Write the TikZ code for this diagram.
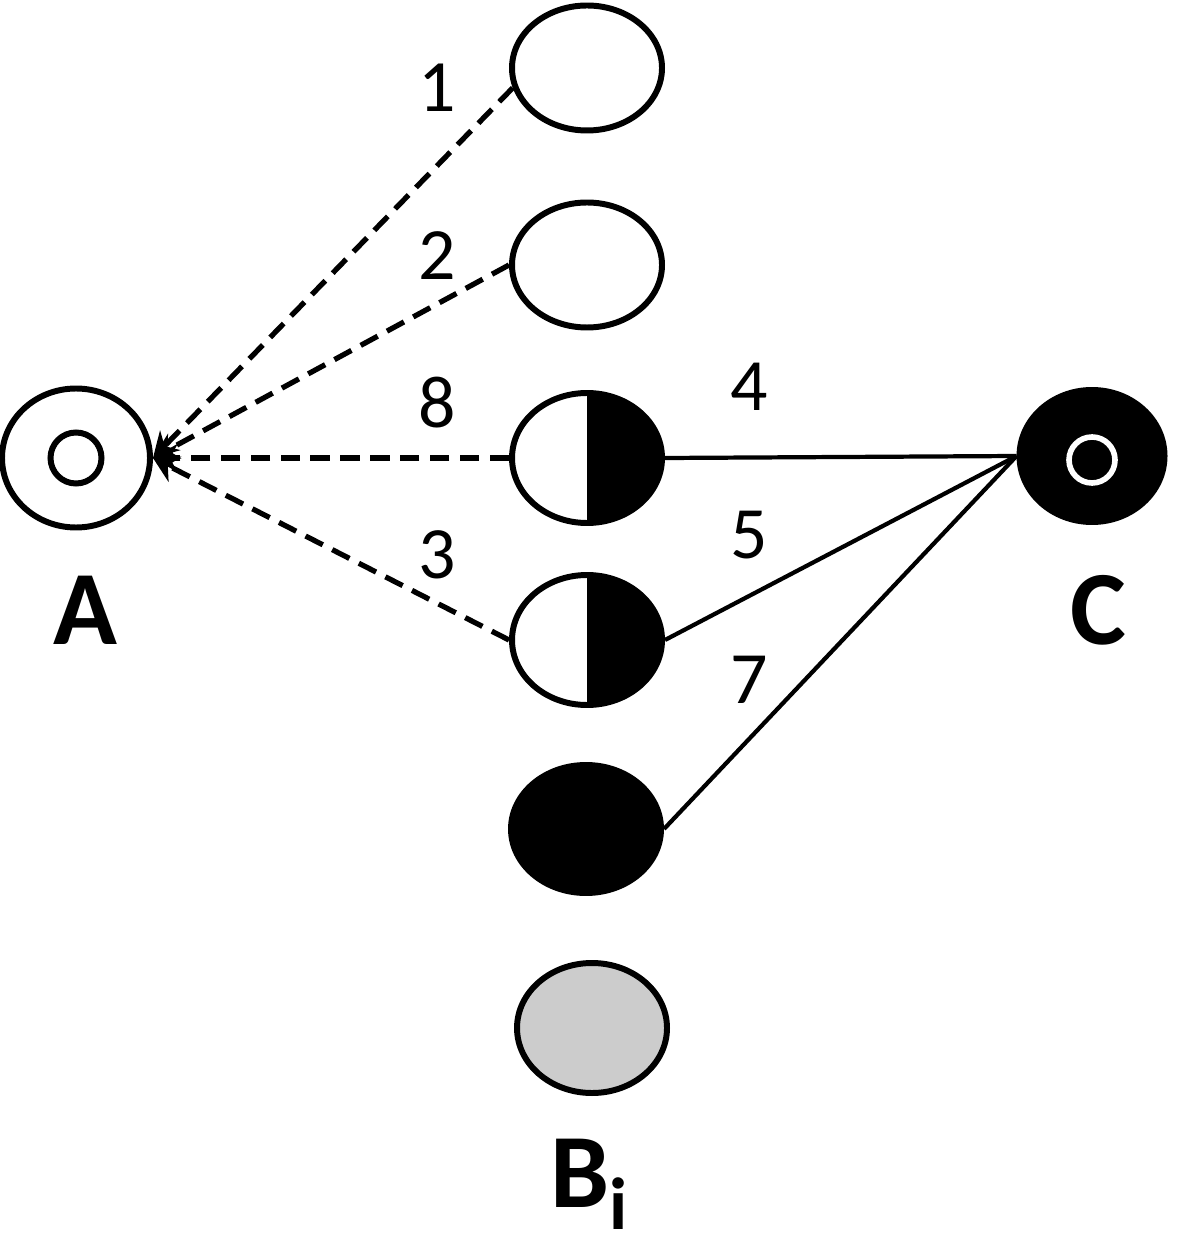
\documentclass[tikz,border=0pt]{standalone}
\usepackage{amsmath}
\usepackage{fontspec}
\setmainfont{Carlito}
\usetikzlibrary{shapes.geometric,positioning,arrows.meta}

\tikzset{
  cell/.style={ellipse, draw, line width=1.7pt, minimum width=1.5cm, minimum height=1.25cm, inner sep=0pt},
  half/.style={cell, path picture={\fill (path picture bounding box.north) rectangle (path picture bounding box.south east);}},
  dark/.style={cell, fill=black},
  pale/.style={cell, fill=black!20},
  link/.style={line width=1.5pt, dash pattern=on 5.5pt off 3pt, -{Stealth[length=7pt,width=8pt]}},
  tie/.style={line width=1.2pt},
  num/.style={font=\fontsize{21}{21}\selectfont},
  tag/.style={font=\fontsize{30}{30}\selectfont\bfseries}
}

\begin{document}
\begin{tikzpicture}
\useasboundingbox (0,0) rectangle (11.79,-12.45);

% source and sink
\node[cell, minimum width=1.48cm, minimum height=1.39cm,
  path picture={\draw[line width=1.7pt] (path picture bounding box.center) circle (0.255cm);}] (A) at (0.76,-4.58) {};
\node[dark, minimum width=1.45cm, minimum height=1.32cm,
  path picture={\draw[white, line width=1.6pt] ([yshift=-0.04cm]path picture bounding box.center) circle (0.23cm);}] (C) at (10.92,-4.56) {};

% middle column
\node[cell] (B1) at (5.87,-0.68) {};
\node[cell] (B2) at (5.87,-2.65) {};
\node[half, minimum height=1.3cm] (B3) at (5.87,-4.58) {};
\node[half, minimum height=1.3cm] (B4) at (5.87,-6.40) {};
\node[dark, minimum height=1.28cm] (B5) at (5.86,-8.29) {};
\node[pale, minimum height=1.3cm] (B6) at (5.92,-10.28) {};

% connections
\draw[link] (B1.195) -- (A.east);
\draw[link] (B2.west) -- (A.east);
\draw[link] (B3.west) -- (A.east);
\draw[link] (B4.west) -- (A.east);
\draw[tie] (C.west) -- (B3.east);
\draw[tie] (C.west) -- (B4.east);
\draw[tie] (C.west) -- (B5.east);

% numbers
\node[num] (n1) at (4.37,-0.88) {1};
\node[num] (n2) at (4.37,-2.56) {2};
\node[num] (n8) at (4.37,-4.03) {8};
\node[num] (n3) at (4.37,-5.55) {3};
\node[num] (n4) at (7.49,-3.87) {4};
\node[num] (n5) at (7.49,-5.35) {5};
\node[num] (n7) at (7.49,-6.80) {7};

% names
\node[tag] (lA) at (0.85,-6.10) {A};
\node[tag] (lC) at (10.98,-6.10) {C};
\node[tag] (lB) at (5.90,-11.84) {B$_{\text{\bfseries i}}$};
\end{tikzpicture}
\end{document}
